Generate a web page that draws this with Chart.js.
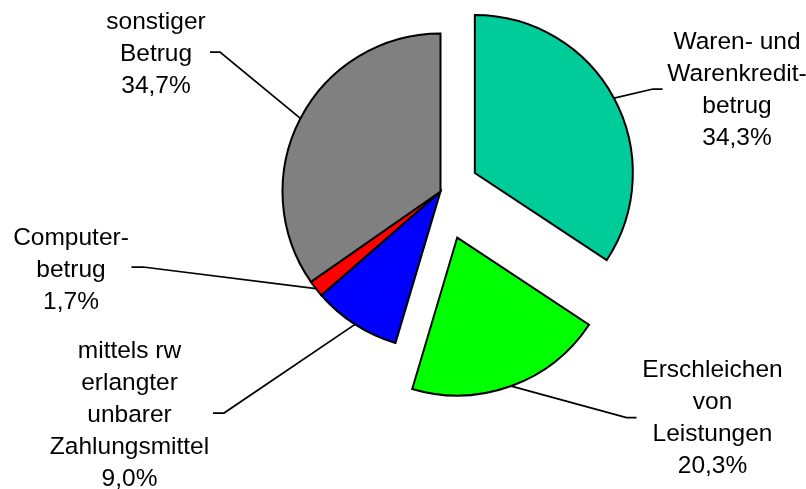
<!DOCTYPE html>
<html>
<head>
<meta charset="utf-8">
<script src="https://cdn.jsdelivr.net/npm/chart.js@4.4.0/dist/chart.umd.min.js"></script>
<style>
  html, body { margin: 0; padding: 0; background: #fff; }
  #wrap { width: 806px; height: 489px; }
</style>
</head>
<body>
<div id="wrap"><canvas id="chart" width="806" height="489"></canvas></div>
<script>
// Betrugsarten, Anteile in %
const categories = [
  ['Waren- und', 'Warenkredit-', 'betrug'],
  ['Erschleichen', 'von', 'Leistungen'],
  ['mittels rw', 'erlangter', 'unbarer', 'Zahlungsmittel'],
  ['Computer-', 'betrug'],
  ['sonstiger', 'Betrug']
];
const shares = [34.3, 20.3, 9.0, 1.7, 34.7];
const sliceColors = ['#00CC99', '#00FF00', '#0000FF', '#FF0000', '#808080'];

// how far each slice is pulled out of the pie (px)
const explode = [39, 49, 0, 0, 0];

// label placement: leader elbow points and text block (centre x, first baseline)
const labelLayout = [
  { elbow: [[653, 89], [662.5, 89]], cx: 737, y: 49 },
  { elbow: [[626.5, 417.5], [636.5, 417.5]], cx: 712.5, y: 377 },
  { elbow: [[224, 413], [213, 413]], cx: 129.5, y: 357.5 },
  { elbow: [[143, 267], [131.5, 267]], cx: 71, y: 244.5 },
  { elbow: [[220, 52], [210, 52]], cx: 156, y: 29 }
];

const fmt = v => v.toFixed(1).replace('.', ',') + '%';

// move exploded slices outwards along their middle angle
const explodePlugin = {
  id: 'explode',
  afterDatasetsUpdate(chart) {
    const meta = chart.getDatasetMeta(0);
    meta.data.forEach((arc, i) => {
      const e = explode[i] || 0;
      const mid = (arc.startAngle + arc.endAngle) / 2;
      arc.x += Math.cos(mid) * e;
      arc.y += Math.sin(mid) * e;
    });
  }
};

// outside labels with leader lines
const labelPlugin = {
  id: 'outLabels',
  afterDraw(chart) {
    const ctx = chart.ctx;
    const meta = chart.getDatasetMeta(0);
    ctx.save();
    meta.data.forEach((arc, i) => {
      const mid = (arc.startAngle + arc.endAngle) / 2;
      const ax = arc.x + Math.cos(mid) * arc.outerRadius;
      const ay = arc.y + Math.sin(mid) * arc.outerRadius;
      const lay = labelLayout[i];

      ctx.strokeStyle = '#000';
      ctx.lineWidth = 1.75;
      ctx.beginPath();
      ctx.moveTo(ax, ay);
      lay.elbow.forEach(p => ctx.lineTo(p[0], p[1]));
      ctx.stroke();

      const lines = categories[i].concat([fmt(shares[i])]);
      ctx.fillStyle = '#000';
      ctx.font = '24.5px "Liberation Sans", Arial, sans-serif';
      ctx.textAlign = 'center';
      ctx.textBaseline = 'alphabetic';
      lines.forEach((t, k) => ctx.fillText(t, lay.cx, lay.y + k * 32));
    });
    ctx.restore();
  }
};

new Chart(document.getElementById('chart'), {
  type: 'pie',
  data: {
    labels: categories.map(c => c.join(' ')),
    datasets: [{
      data: shares,
      backgroundColor: sliceColors,
      borderColor: '#000',
      borderWidth: 2,
      borderJoinStyle: 'miter'
    }]
  },
  options: {
    responsive: false,
    animation: false,
    radius: 158,
    layout: { padding: { left: 100, right: 25, top: 10, bottom: 116 } },
    plugins: {
      legend: { display: false },
      tooltip: { enabled: false }
    }
  },
  plugins: [explodePlugin, labelPlugin]
});
</script>
</body>
</html>
